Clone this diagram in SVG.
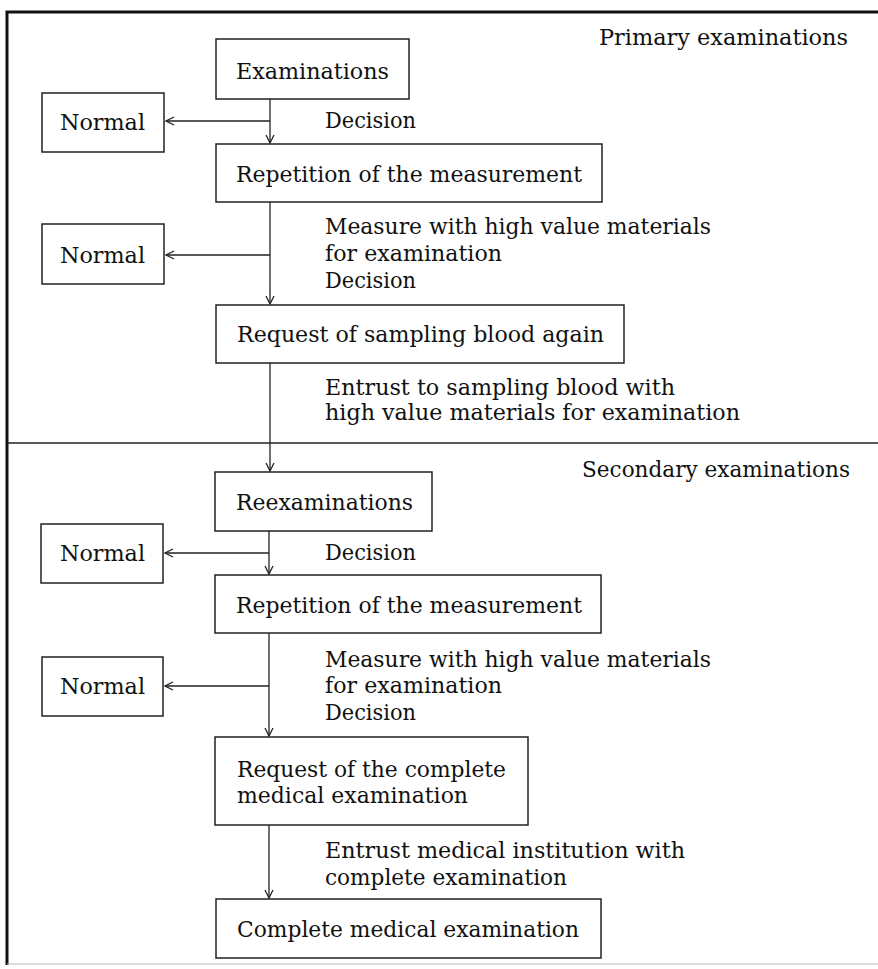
<svg xmlns="http://www.w3.org/2000/svg" width="878" height="969" viewBox="0 0 878 969">
<defs>
<marker id="arr" viewBox="0 0 10 10" refX="9" refY="5" markerWidth="10" markerHeight="10" markerUnits="userSpaceOnUse" orient="auto">
<path d="M1,1 L9,5 L1,9" fill="none" stroke="#222" stroke-width="1.3"/>
</marker>
<style>
.box{fill:#fff;stroke:#222;stroke-width:1.5}
.t{font-family:"DejaVu Serif","Liberation Serif",serif;font-size:22px;fill:#111}
.c{fill:none;stroke:#222;stroke-width:1.3}
.frame{fill:none;stroke:#111;stroke-width:3}
</style>
</defs>
<rect width="878" height="969" fill="#fff"/>
<g id="frame">
<path class="frame" d="M7,965 V12 H878"/>
<line x1="7" y1="443" x2="878" y2="443" stroke="#222" stroke-width="1.5"/>
<line x1="7" y1="964" x2="878" y2="964" stroke="#bbb" stroke-width="1"/>
</g>
<g id="labels">
<text class="t" x="599" y="45" textLength="249" lengthAdjust="spacingAndGlyphs">Primary examinations</text>
<text class="t" x="582" y="477" textLength="268" lengthAdjust="spacingAndGlyphs">Secondary examinations</text>
<text class="t" x="325" y="128" textLength="91" lengthAdjust="spacingAndGlyphs">Decision</text>
<text class="t" x="325" y="234" textLength="386" lengthAdjust="spacingAndGlyphs">Measure with high value materials</text>
<text class="t" x="325" y="261" textLength="177" lengthAdjust="spacingAndGlyphs">for examination</text>
<text class="t" x="325" y="288" textLength="91" lengthAdjust="spacingAndGlyphs">Decision</text>
<text class="t" x="325" y="395" textLength="350" lengthAdjust="spacingAndGlyphs">Entrust to sampling blood with</text>
<text class="t" x="325" y="420" textLength="415" lengthAdjust="spacingAndGlyphs">high value materials for examination</text>
<text class="t" x="325" y="560" textLength="91" lengthAdjust="spacingAndGlyphs">Decision</text>
<text class="t" x="325" y="667" textLength="386" lengthAdjust="spacingAndGlyphs">Measure with high value materials</text>
<text class="t" x="325" y="693" textLength="177" lengthAdjust="spacingAndGlyphs">for examination</text>
<text class="t" x="325" y="720" textLength="91" lengthAdjust="spacingAndGlyphs">Decision</text>
<text class="t" x="325" y="858" textLength="360" lengthAdjust="spacingAndGlyphs">Entrust medical institution with</text>
<text class="t" x="325" y="885" textLength="242" lengthAdjust="spacingAndGlyphs">complete examination</text>
</g>
<g id="connectors">
<line class="c" x1="270" y1="99" x2="270" y2="143" marker-end="url(#arr)"/>
<line class="c" x1="270" y1="121" x2="166" y2="121" marker-end="url(#arr)"/>
<line class="c" x1="270" y1="202" x2="270" y2="304" marker-end="url(#arr)"/>
<line class="c" x1="270" y1="255" x2="166" y2="255" marker-end="url(#arr)"/>
<line class="c" x1="270" y1="363" x2="270" y2="471" marker-end="url(#arr)"/>
<line class="c" x1="269" y1="531" x2="269" y2="574" marker-end="url(#arr)"/>
<line class="c" x1="269" y1="553" x2="165" y2="553" marker-end="url(#arr)"/>
<line class="c" x1="269" y1="633" x2="269" y2="736" marker-end="url(#arr)"/>
<line class="c" x1="269" y1="686" x2="165" y2="686" marker-end="url(#arr)"/>
<line class="c" x1="269" y1="825" x2="269" y2="898" marker-end="url(#arr)"/>
</g>
<g id="n-exam"><rect class="box" x="216" y="39" width="193" height="60"/><text class="t" x="236" y="79" textLength="153" lengthAdjust="spacingAndGlyphs">Examinations</text></g>
<g id="n-normal1"><rect class="box" x="42" y="93" width="122" height="59"/><text class="t" x="60" y="130" textLength="85" lengthAdjust="spacingAndGlyphs">Normal</text></g>
<g id="n-rep1"><rect class="box" x="216" y="144" width="386" height="58"/><text class="t" x="236" y="182" textLength="346" lengthAdjust="spacingAndGlyphs">Repetition of the measurement</text></g>
<g id="n-normal2"><rect class="box" x="42" y="224" width="122" height="60"/><text class="t" x="60" y="263" textLength="85" lengthAdjust="spacingAndGlyphs">Normal</text></g>
<g id="n-request1"><rect class="box" x="216" y="305" width="408" height="58"/><text class="t" x="237" y="342" textLength="367" lengthAdjust="spacingAndGlyphs">Request of sampling blood again</text></g>
<g id="n-reexam"><rect class="box" x="215" y="472" width="217" height="59"/><text class="t" x="236" y="510" textLength="177" lengthAdjust="spacingAndGlyphs">Reexaminations</text></g>
<g id="n-normal3"><rect class="box" x="41" y="524" width="122" height="59"/><text class="t" x="60" y="561" textLength="85" lengthAdjust="spacingAndGlyphs">Normal</text></g>
<g id="n-rep2"><rect class="box" x="215" y="575" width="386" height="58"/><text class="t" x="236" y="613" textLength="346" lengthAdjust="spacingAndGlyphs">Repetition of the measurement</text></g>
<g id="n-normal4"><rect class="box" x="42" y="657" width="121" height="59"/><text class="t" x="60" y="694" textLength="85" lengthAdjust="spacingAndGlyphs">Normal</text></g>
<g id="n-request2"><rect class="box" x="215" y="737" width="313" height="88"/><text class="t" x="237" y="777" textLength="269" lengthAdjust="spacingAndGlyphs">Request of the complete</text><text class="t" x="237" y="803" textLength="231" lengthAdjust="spacingAndGlyphs">medical examination</text></g>
<g id="n-complete"><rect class="box" x="216" y="899" width="385" height="59"/><text class="t" x="237" y="937" textLength="342" lengthAdjust="spacingAndGlyphs">Complete medical examination</text></g>
</svg>
